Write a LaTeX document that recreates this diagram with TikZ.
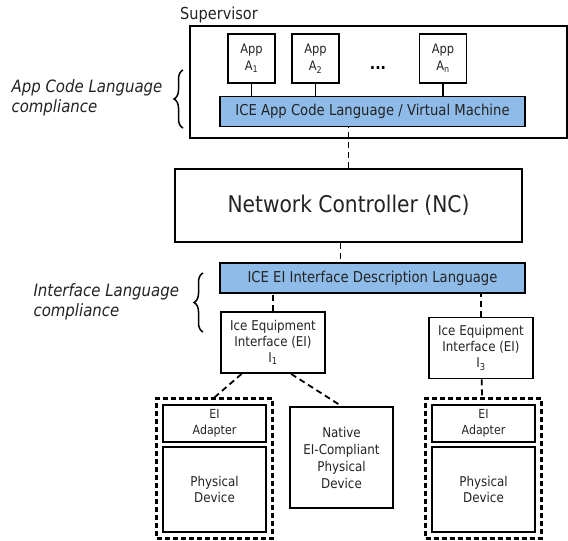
\documentclass[tikz,border=0pt]{standalone}
\usepackage{fontspec}
\setmainfont{DejaVu Sans}[FakeStretch=0.88]
\usetikzlibrary{fit,decorations.pathreplacing}
\definecolor{iceblue}{RGB}{143,187,232}
\definecolor{inkgray}{RGB}{35,35,35}

\begin{document}
\begin{tikzpicture}[x=1pt, y=-1pt,
    box/.style={draw, line width=1.8pt, inner sep=0pt, align=center, text=inkgray},
    bar/.style={box, fill=iceblue, minimum width=305pt, minimum height=30pt, font=\fontsize{15}{18}\selectfont},
    devbox/.style={box, minimum width=103pt, font=\fontsize{13.5}{16}\selectfont},
    group/.style={draw, line width=2.4pt, dash pattern=on 5pt off 3pt, inner sep=5.5pt},
    link/.style={draw, line width=1.8pt},
    dlink/.style={draw, line width=1.8pt, dash pattern=on 6pt off 4pt},
    comply/.style={align=left, anchor=west, text=inkgray, font=\itshape\fontsize{17}{20}\selectfont},
    curly/.style={decorate, decoration={brace, amplitude=9pt}, line width=1.5pt}]
    \useasboundingbox (0,0) rectangle (568,541);

    % supervisor
    \node[draw, line width=1.5pt, minimum width=377pt, minimum height=112pt] (sup) at (378.5,82) {};
    \node[font=\fontsize{16.5}{18}\selectfont, text=inkgray] (suplabel) at (219,15) {Supervisor};
    \begin{scope}[every node/.style={box, minimum width=47pt, minimum height=49pt, font=\fontsize{13}{17}\selectfont}]
        \node (a1) at (251.5,58.5) {App\\A\textsubscript{1}};
        \node (a2) at (315.5,58.5) {App\\A\textsubscript{2}};
        \node (an) at (443,58.5) {App\\A\textsubscript{n}};
    \end{scope}
    \node[font=\bfseries\fontsize{16}{16}\selectfont] (dots) at (378,68) {...};
    \node[bar] (acl) at (372.5,111.5) {ICE App Code Language / Virtual Machine};

    % network controller
    \node[box, minimum width=347pt, minimum height=73pt, font=\fontsize{23}{26}\selectfont] (nc) at (348.5,205.5) {Network Controller (NC)};

    % interfaces
    \node[bar] (eid) at (372.5,278) {ICE EI Interface Description Language};
    \begin{scope}[every node/.style={devbox, minimum width=104pt, minimum height=61pt}]
        \node (ei1) at (273,342.5) {Ice Equipment\\Interface (EI)\\I\textsubscript{1}};
        \node (ei3) at (481,348) {Ice Equipment\\Interface (EI)\\I\textsubscript{3}};
    \end{scope}

    % devices
    \begin{scope}[every node/.style={devbox}]
        \node[minimum height=37pt, font=\fontsize{12.5}{16}\selectfont] (ad1) at (214.5,423.5) {EI\\Adapter};
        \node[minimum height=85pt] (pd1) at (214.5,489.5) {Physical\\Device};
        \node[minimum height=101pt, font=\fontsize{13.5}{17}\selectfont] (nat) at (341.5,457.5) {Native\\EI-Compliant\\Physical\\Device};
        \node[minimum height=37pt, font=\fontsize{12.5}{16}\selectfont] (ad3) at (483.5,423.5) {EI\\Adapter};
        \node[minimum height=85pt] (pd3) at (483.5,489.5) {Physical\\Device};
    \end{scope}
    \node[group, fit=(ad1)(pd1)] (lgrp) {};
    \node[group, fit=(ad3)(pd3)] (rgrp) {};

    % compliance braces
    \node[comply] (acllabel) at (8,98) {App Code Language\\compliance};
    \node[comply] (eilabel) at (30,302) {Interface Language\\compliance};
    \draw[curly] (183,128) -- (183,70);
    \draw[curly] (203,332) -- (203,273);

    \begin{scope}[every edge/.style={link}]
        \path (a1) edge (a1 |- acl.north);
        \path (a2) edge (a2 |- acl.north);
        \path (an) edge (an |- acl.north);
    \end{scope}
    \begin{scope}[every edge/.style={dlink}]
        \path (nc) edge (nc |- acl.south);
        \path ([xshift=-8pt]nc.south) edge ([xshift=-8pt]nc.south |- eid.north);
        \path (ei1) edge (ei1 |- eid.south);
        \path (ei3) edge (ei3 |- eid.south);
        \path (ei1.225) edge (lgrp.north);
        \path (ei1.300) edge (nat.north);
        \path (ei3) edge (rgrp);
    \end{scope}
\end{tikzpicture}
\end{document}
